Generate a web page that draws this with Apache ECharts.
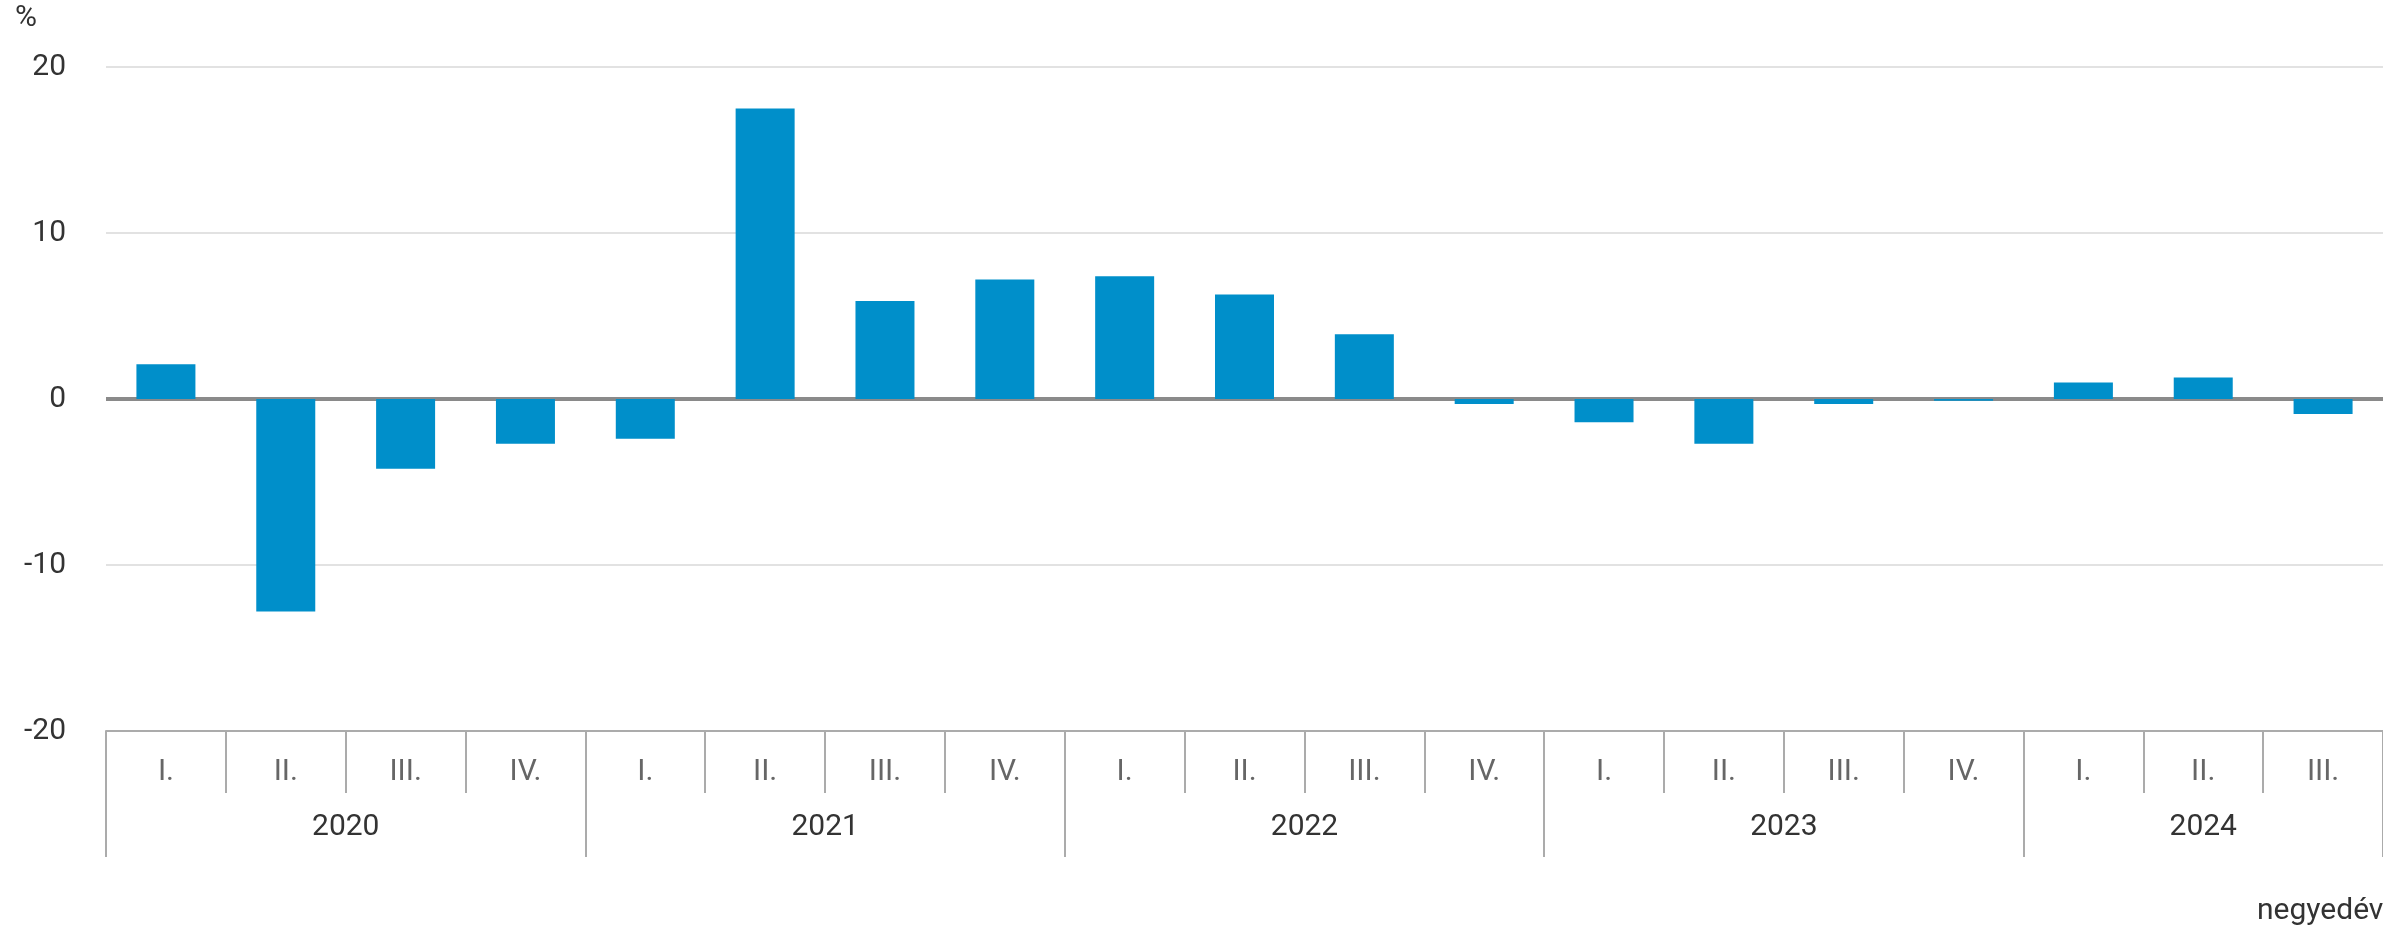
<!DOCTYPE html>
<html>
<head>
<meta charset="utf-8">
<title>negyedéves változás</title>
<script src="https://cdn.jsdelivr.net/npm/echarts@6/dist/echarts.min.js"></script>
<style>
  html, body { margin: 0; padding: 0; background: #fff; }
  #chart { width: 2383px; height: 932px; }
</style>
</head>
<body>
<div id="chart"></div>
<script>
// quarter labels, year of each quarter, and values (%)
const quarterLabels = ['I.', 'II.', 'III.', 'IV.', 'I.', 'II.', 'III.', 'IV.', 'I.', 'II.', 'III.', 'IV.', 'I.', 'II.', 'III.', 'IV.', 'I.', 'II.', 'III.'];
const yearLabels = ['2020', '2020', '2020', '2020', '2021', '2021', '2021', '2021', '2022', '2022', '2022', '2022', '2023', '2023', '2023', '2023', '2024', '2024', '2024'];
const values = [2.1, -12.8, -4.2, -2.7, -2.4, 17.5, 5.9, 7.2, 7.4, 6.3, 3.9, -0.3, -1.4, -2.7, -0.3, -0.1, 1.0, 1.3, -0.9];
const yTicks = { min: -20, max: 20, interval: 10 };

const FONT = 'Roboto';
const barColor = '#008fca';
const axisGray = '#ababab';

// where each year starts, and which category carries the year label
const yearStart = yearLabels.map((y, i) => i === 0 || yearLabels[i - 1] !== y);
const yearLabelAt = {};
yearLabels.forEach((y, i) => {
  if (!yearStart[i]) return;
  let n = 0;
  while (yearLabels[i + n] === y) n++;
  // even count: label sits between two categories -> shift it by half a slot
  yearLabelAt[i + Math.floor((n - 1) / 2)] = n % 2 === 0 ? 's' : 'n';
});

const chart = echarts.init(document.getElementById('chart'));

chart.setOption({
  animation: false,
  textStyle: { fontFamily: FONT },
  title: [
    {
      text: '%', left: 15, top: 3, padding: 0,
      textStyle: { fontFamily: FONT, fontSize: 30, fontWeight: 'normal', color: '#333' },
    },
    {
      text: 'negyedév', left: 2257, top: 896, padding: 0,
      textStyle: { fontFamily: FONT, fontSize: 30, fontWeight: 'normal', color: '#333' },
    },
  ],
  grid: {
    left: 106,
    right: 0,
    top: 67,
    bottom: 201,
    containLabel: false,
  },
  xAxis: [
    {
      type: 'category',
      position: 'bottom',
      data: quarterLabels,
      boundaryGap: true,
      axisLine: { show: true, onZero: false, lineStyle: { color: axisGray, width: 2 } },
      axisTick: { show: true, interval: 0, length: 62, lineStyle: { color: axisGray, width: 2 } },
      axisLabel: {
        interval: 0, margin: 26, fontSize: 30, lineHeight: 30,
        color: '#666', fontFamily: FONT,
      },
      splitLine: { show: false },
    },
    {
      type: 'category',
      position: 'bottom',
      data: yearLabels,
      boundaryGap: true,
      axisLine: { show: false, onZero: false },
      axisTick: {
        show: true,
        interval: (index) => !!yearStart[index],
        length: 126,
        lineStyle: { color: axisGray, width: 2 },
      },
      axisLabel: {
        interval: 0, margin: 81, fontSize: 30, lineHeight: 30,
        color: '#333', fontFamily: FONT,
        formatter: (value, index) => {
          const kind = yearLabelAt[index];
          if (!kind) return '';
          return '{' + kind + '|' + value + '}';
        },
        rich: {
          s: { padding: [0, 0, 0, 120], fontSize: 30, color: '#333', fontFamily: FONT },
          n: { fontSize: 30, color: '#333', fontFamily: FONT },
        },
      },
      splitLine: { show: false },
    },
  ],
  yAxis: {
    type: 'value',
    min: yTicks.min,
    max: yTicks.max,
    interval: yTicks.interval,
    axisLine: { show: false },
    axisTick: { show: false },
    axisLabel: { fontSize: 30, color: '#333', margin: 40, fontFamily: FONT },
    splitLine: { lineStyle: { color: '#e2e2e2', width: 2 } },
  },
  series: [
    {
      type: 'bar',
      xAxisIndex: 0,
      data: values,
      barWidth: 59,
      z: 3,
      itemStyle: { color: barColor },
      markLine: {
        silent: true,
        z: 1,
        symbol: 'none',
        label: { show: false },
        lineStyle: { color: '#8a8a8a', width: 4, type: 'solid' },
        data: [{ yAxis: 0 }],
      },
    },
  ],
});
</script>
</body>
</html>
